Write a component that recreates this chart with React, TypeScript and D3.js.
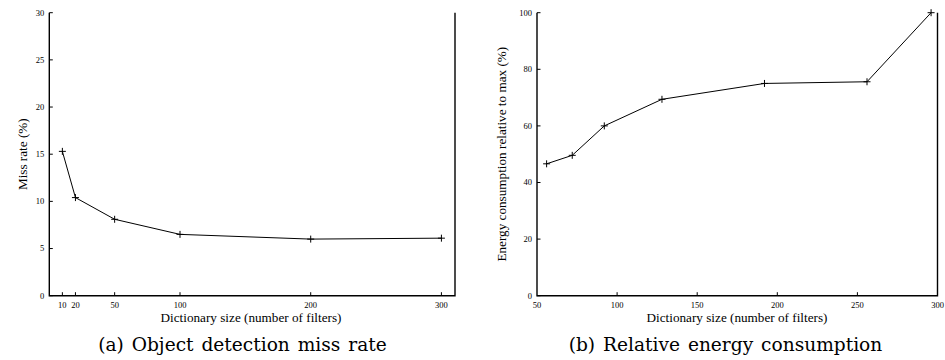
import React, { useEffect, useRef } from 'react';
import * as d3 from 'd3';

// (a) miss rate vs dictionary size
const missSizes = [10, 20, 50, 100, 200, 300];
const missRates = [15.3, 10.4, 8.1, 6.5, 6.0, 6.1];
const missXTicks = [10, 20, 50, 100, 200, 300];
const missYTicks = [0, 5, 10, 15, 20, 25, 30];

// (b) relative energy vs dictionary size
const energySizes = [56, 72, 92, 128, 192, 256, 296];
const energyValues = [46.6, 49.6, 60, 69.4, 75.0, 75.6, 100];
const energyXTicks = [50, 100, 150, 200, 250, 300];
const energyYTicks = [0, 20, 40, 60, 80, 100];

const W = 945;
const H = 360;
const TICK_FONT = "'Liberation Serif', 'DejaVu Serif', serif";
const CAPTION_FONT = "'DejaVu Serif', serif";

const drawPanel = (svg, opts) => {
    const { x0, x1, xDomain, yDomain, xs, ys, xTicks, yTicks, yTitle, yTitleX, caption, captionX, xTitleX } = opts;
    const top = 12.7;
    const bottom = 295.7;
    const x = d3.scaleLinear().domain(xDomain).range([x0, x1]);
    const y = d3.scaleLinear().domain(yDomain).range([bottom, top]);
    const g = svg.append('g');

    // frame: left, bottom, right
    g.append('path')
        .attr('d', `M${x0},${top}L${x0},${bottom}L${x1},${bottom}L${x1},${top}`)
        .attr('fill', 'none')
        .attr('stroke', '#000')
        .attr('stroke-width', 1.4);

    // y ticks (inward)
    yTicks.forEach(t => {
        g.append('line')
            .attr('x1', x0).attr('x2', x0 + 3.5)
            .attr('y1', y(t)).attr('y2', y(t))
            .attr('stroke', '#000').attr('stroke-width', 1);
        g.append('text')
            .attr('x', x0 - 5)
            .attr('y', y(t))
            .attr('dy', '0.33em')
            .attr('text-anchor', 'end')
            .style('font-family', TICK_FONT)
            .style('font-size', '8.5px')
            .text(t);
    });

    // x ticks (inward)
    xTicks.forEach(t => {
        if (x(t) > x0 + 1 && x(t) < x1 - 1) {
            g.append('line')
                .attr('x1', x(t)).attr('x2', x(t))
                .attr('y1', bottom).attr('y2', bottom - 3.5)
                .attr('stroke', '#000').attr('stroke-width', 1);
        }
        g.append('text')
            .attr('x', x(t))
            .attr('y', 308)
            .attr('text-anchor', 'middle')
            .style('font-family', TICK_FONT)
            .style('font-size', '8.5px')
            .text(t);
    });

    // data line
    const pts = xs.map((v, i) => [x(v), y(ys[i])]);
    g.append('path')
        .attr('d', d3.line()(pts))
        .attr('fill', 'none')
        .attr('stroke', '#000')
        .attr('stroke-width', 1);

    // plus markers
    pts.forEach(([px, py]) => {
        g.append('path')
            .attr('d', `M${px - 3.5},${py}H${px + 3.5}M${px},${py - 3.5}V${py + 3.5}`)
            .attr('stroke', '#000')
            .attr('stroke-width', 1);
    });

    // axis titles
    g.append('text')
        .attr('x', xTitleX)
        .attr('y', 321.5)
        .attr('text-anchor', 'middle')
        .style('font-family', TICK_FONT)
        .style('font-size', '13.2px')
        .text('Dictionary size (number of filters)');

    g.append('text')
        .attr('transform', `translate(${yTitleX},${(top + bottom) / 2}) rotate(-90)`)
        .attr('text-anchor', 'middle')
        .style('font-family', TICK_FONT)
        .style('font-size', '13.2px')
        .text(yTitle);

    // caption
    g.append('text')
        .attr('x', captionX)
        .attr('y', 351)
        .attr('text-anchor', 'middle')
        .style('font-family', CAPTION_FONT)
        .style('font-size', '18.6px')
        .style('word-spacing', '2px')
        .text(caption);
};

const App = () => {
    const svgRef = useRef(null);

    useEffect(() => {
        const svg = d3.select(svgRef.current);
        svg.selectAll('*').remove();

        drawPanel(svg, {
            x0: 49.3, x1: 455, xDomain: [0, 310.4], yDomain: [0, 30],
            xs: missSizes, ys: missRates, xTicks: missXTicks, yTicks: missYTicks,
            yTitle: 'Miss rate (%)', yTitleX: 27, xTitleX: 251,
            caption: '(a) Object detection miss rate', captionX: 242.5,
        });

        drawPanel(svg, {
            x0: 537, x1: 937.5, xDomain: [50, 300], yDomain: [0, 100],
            xs: energySizes, ys: energyValues, xTicks: energyXTicks, yTicks: energyYTicks,
            yTitle: 'Energy consumption relative to max (%)', yTitleX: 506, xTitleX: 737,
            caption: '(b) Relative energy consumption', captionX: 725.5,
        });
    }, []);

    return (
        <svg
            ref={svgRef}
            width={W}
            height={H}
            style={{ position: 'absolute', left: 0, top: 0, background: '#fff' }}
        />
    );
};

export default App;
